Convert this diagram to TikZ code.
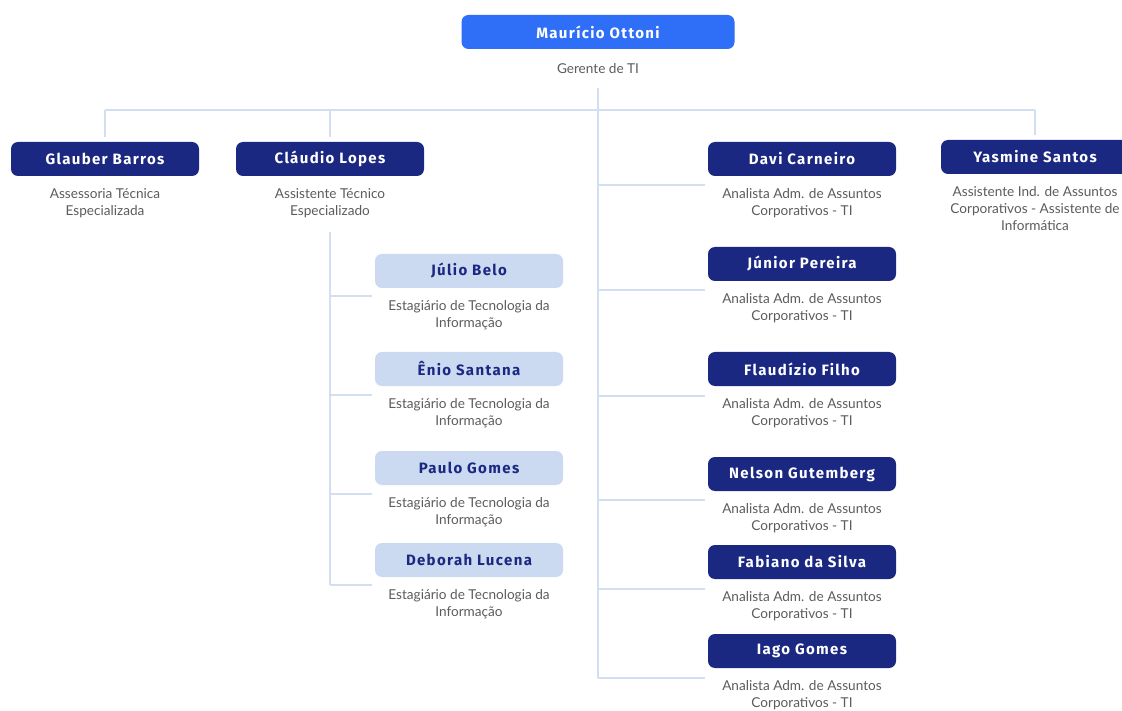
\documentclass[tikz,border=0pt]{standalone}
\usepackage{fontspec}
\setmainfont{Lato}
\newfontfamily\namefont[LetterSpace=9]{Fira Sans}
\usepackage{xcolor}
\usetikzlibrary{positioning}
\definecolor{azulchefe}{HTML}{2F6EF7}
\definecolor{marinho}{HTML}{1B2882}
\definecolor{claro}{HTML}{CBDAF0}
\definecolor{linha}{HTML}{D3DEF1}
\definecolor{cinza}{HTML}{5C5C5C}
\tikzstyle{boss} = [rectangle, rounded corners=7pt, minimum width=273pt, minimum height=34pt, text centered, fill=azulchefe, text=white, font=\namefont\bfseries\fontsize{15}{17}\selectfont]
\tikzstyle{cargo} = [rectangle, rounded corners=7pt, minimum width=188pt, minimum height=34pt, text centered, fill=marinho, text=white, font=\namefont\bfseries\fontsize{15}{17}\selectfont]
\tikzstyle{estag} = [cargo, fill=claro, text=marinho]
\tikzstyle{funcao} = [align=center, text=cinza, inner sep=0pt, font=\fontsize{13.6}{17}\selectfont]
\tikzstyle{conector} = [draw=linha, line width=1.8pt]

\begin{document}
\begin{tikzpicture}[x=1pt, y=-1pt]
        \useasboundingbox [fill=white] (0,0) rectangle (1122,711);

        % gerente
        \node (mauricio) [boss] at (598,32) {Maurício Ottoni};
        \node (gerente) [funcao, below=14pt of mauricio] {Gerente de TI};

        % primeiro nivel
        \node (glauber) [cargo] at (105,159) {Glauber Barros};
        \node (glauberf) [funcao, below=12pt of glauber] {Assessoria Técnica\\Especializada};
        \node (claudio) [cargo] at (330,159) {Cláudio Lopes};
        \node (claudiof) [funcao, below=12pt of claudio] {Assistente Técnico\\Especializado};
        \node (yasmine) [cargo] at (1035,157) {Yasmine Santos};
        \node (yasminef) [funcao, below=12pt of yasmine] {Assistente Ind. de Assuntos\\Corporativos - Assistente de\\Informática};

        % estagiarios
        \node (julio) [estag] at (469,271) {Júlio Belo};
        \node (juliof) [funcao, below=12pt of julio] {Estagiário de Tecnologia da\\Informação};
        \node (enio) [estag] at (469,369) {Ênio Santana};
        \node (eniof) [funcao, below=12pt of enio] {Estagiário de Tecnologia da\\Informação};
        \node (paulo) [estag] at (469,468) {Paulo Gomes};
        \node (paulof) [funcao, below=12pt of paulo] {Estagiário de Tecnologia da\\Informação};
        \node (deborah) [estag] at (469,560) {Deborah Lucena};
        \node (deborahf) [funcao, below=12pt of deborah] {Estagiário de Tecnologia da\\Informação};

        % analistas
        \node (davi) [cargo] at (802,159) {Davi Carneiro};
        \node (davif) [funcao, below=12pt of davi] {Analista Adm. de Assuntos\\Corporativos - TI};
        \node (junior) [cargo] at (802,264) {Júnior Pereira};
        \node (juniorf) [funcao, below=12pt of junior] {Analista Adm. de Assuntos\\Corporativos - TI};
        \node (flaudizio) [cargo] at (802,369) {Flaudízio Filho};
        \node (flaudiziof) [funcao, below=12pt of flaudizio] {Analista Adm. de Assuntos\\Corporativos - TI};
        \node (nelson) [cargo] at (802,474) {Nelson Gutemberg};
        \node (nelsonf) [funcao, below=12pt of nelson] {Analista Adm. de Assuntos\\Corporativos - TI};
        \node (fabiano) [cargo] at (802,562) {Fabiano da Silva};
        \node (fabianof) [funcao, below=12pt of fabiano] {Analista Adm. de Assuntos\\Corporativos - TI};
        \node (iago) [cargo] at (802,651) {Iago Gomes};
        \node (iagof) [funcao, below=12pt of iago] {Analista Adm. de Assuntos\\Corporativos - TI};

        % linhas
        \coordinate (topo) at (598,88);
        \coordinate (fim) at (598,678);
        \coordinate (esq) at (105,110);
        \coordinate (dir) at (1035,110);
        \coordinate (meio) at (330,110);
        \coordinate (cl1) at (330,232);
        \coordinate (cl2) at (330,585);
        \draw [conector] (topo) -- (fim);
        \draw [conector] (esq) -- (dir);
        \draw [conector, shorten >=5pt] (esq) -- (glauber.north);
        \draw [conector, shorten >=5pt] (meio) -- (claudio.north);
        \draw [conector, shorten >=5pt] (dir) -- (yasmine.north);
        \draw [conector] (cl1) -- (cl2);
        \foreach \n/\y in {julio/296, enio/395, paulo/494, deborah/585} {
            \coordinate (r\n) at (330,\y);
            \draw [conector, shorten >=3pt] (r\n) -- (r\n -| \n.west);
        }
        \foreach \n/\y in {davi/185, junior/290, flaudizio/396, nelson/500, fabiano/589, iago/678} {
            \coordinate (r\n) at (598,\y);
            \draw [conector, shorten >=3pt] (r\n) -- (r\n -| \n.west);
        }
    \end{tikzpicture}
\end{document}
